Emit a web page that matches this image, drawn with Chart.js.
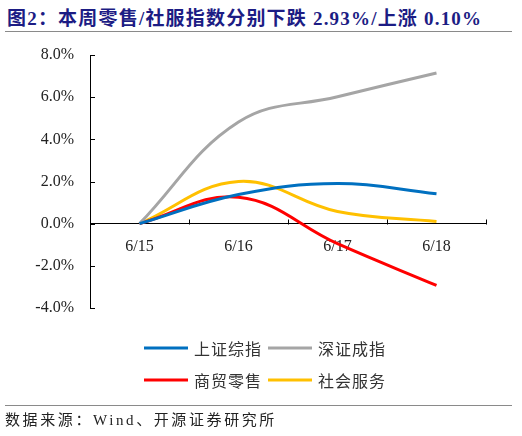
<!DOCTYPE html>
<html>
<head>
<meta charset="utf-8">
<script src="https://cdn.jsdelivr.net/npm/chart.js@4/dist/chart.umd.min.js"></script>
<style>
  html, body { margin: 0; padding: 0; background: #ffffff; }
  #wrap { position: relative; width: 522px; height: 436px; overflow: hidden; }
  #title { position: absolute; left: 7px; top: 3px; font: bold 19px "Liberation Serif", "Noto Sans CJK SC", serif; color: #1c1c84; white-space: nowrap; letter-spacing: 1.2px; }
  #rule1 { position: absolute; left: 5px; top: 31px; width: 507px; height: 0; border-top: 1.5px solid #8a8a8a; }
  #rule2 { position: absolute; left: 5px; top: 405px; width: 507px; height: 0; border-top: 1.5px solid #8a8a8a; }
  #source { position: absolute; left: 5px; top: 408px; font: 15px "Liberation Serif", "Noto Sans CJK SC", serif; color: #222; white-space: nowrap; letter-spacing: 2.6px; }
  canvas { position: absolute; left: 0; top: 0; }
</style>
</head>
<body>
<div id="wrap">
  <div id="title">图2：本周零售/社服指数分别下跌 2.93%/上涨 0.10%</div>
  <div id="rule1"></div>
  <canvas id="c" width="522" height="436"></canvas>
  <div id="rule2"></div>
  <div id="source">数据来源：Wind、开源证券研究所</div>
</div>
<script>
const categories = ['6/15', '6/16', '6/17', '6/18'];
const seriesNames = ['上证综指', '深证成指', '商贸零售', '社会服务'];
const shComposite = [0, 1.38, 1.90, 1.42];
const szComponent = [0, 4.82, 6.02, 7.15];
const retailTrade = [0, 1.25, -0.95, -2.93];
const socialService = [0, 2.00, 0.58, 0.10];
const yTicks = [-4, -2, 0, 2, 4, 6, 8];
const colors = ['#0070C0', '#A5A5A5', '#FF0000', '#FFC000'];

const tickMarks = {
  id: 'tickMarks',
  afterDraw(chart) {
    const ctx = chart.ctx;
    const x = chart.scales.x, y = chart.scales.y;
    const area = chart.chartArea;
    ctx.save();
    ctx.strokeStyle = '#000';
    ctx.lineWidth = 1;
    yTicks.forEach(v => {
      const py = Math.round(y.getPixelForValue(v)) + 0.5;
      ctx.beginPath(); ctx.moveTo(area.left, py); ctx.lineTo(area.left + 5, py); ctx.stroke();
    });
    const y0 = Math.round(y.getPixelForValue(0)) + 0.5;
    for (let i = 0; i < categories.length; i++) {
      const px = Math.round(x.getPixelForValue(i + 0.5)) + 0.5;
      ctx.beginPath(); ctx.moveTo(px, y0); ctx.lineTo(px, y0 - 5); ctx.stroke();
    }
    ctx.restore();
  }
};

const customLegend = {
  id: 'customLegend',
  afterDraw(chart) {
    const ctx = chart.ctx;
    const pos = [
      {x: 144, y: 348}, {x: 268, y: 348},
      {x: 144, y: 380}, {x: 268, y: 380}
    ];
    ctx.save();
    chart.data.datasets.forEach((ds, i) => {
      const p = pos[i];
      ctx.strokeStyle = ds.borderColor;
      ctx.lineWidth = 3;
      ctx.beginPath(); ctx.moveTo(p.x, p.y); ctx.lineTo(p.x + 44, p.y); ctx.stroke();
      ctx.fillStyle = '#333';
      ctx.font = '16px "Noto Sans CJK SC", sans-serif';
      ctx.textBaseline = 'middle';
      ctx.textAlign = 'left';
      if ('letterSpacing' in ctx) ctx.letterSpacing = '1px';
      ctx.fillText(ds.label, p.x + 50, p.y + 1);
    });
    ctx.restore();
  }
};

const mk = (i, data) => ({
  label: seriesNames[i],
  data: data,
  borderColor: colors[i],
  backgroundColor: colors[i],
  borderWidth: 3,
  pointRadius: 0,
  tension: 0.4,
  fill: false
});

new Chart(document.getElementById('c'), {
  type: 'line',
  data: {
    labels: categories,
    datasets: [mk(0, shComposite), mk(1, szComponent), mk(2, retailTrade), mk(3, socialService)]
  },
  options: {
    responsive: false,
    animation: false,
    events: [],
    layout: { padding: { left: 0, top: 55, right: 36, bottom: 128 } },
    plugins: { legend: { display: false }, tooltip: { enabled: false } },
    scales: {
      x: {
        type: 'category',
        position: { y: 0 },
        offset: true,
        grid: { display: false, drawTicks: false },
        border: { display: true, color: '#000', width: 1 },
        ticks: { color: '#222', padding: 14, maxRotation: 0, font: { family: '"Liberation Serif", serif', size: 16 } },
        afterFit(s) { s.height = 0; }
      },
      y: {
        min: -4, max: 8,
        afterBuildTicks(s) { s.ticks = yTicks.map(v => ({ value: v })); },
        grid: { display: false, drawTicks: false },
        border: { display: true, color: '#000', width: 1 },
        ticks: { color: '#222', padding: 16, font: { family: '"Liberation Serif", serif', size: 16 },
          callback: v => v.toFixed(1) + '%' },
        afterFit(s) { s.width = 90; }
      }
    }
  },
  plugins: [tickMarks, customLegend]
});
</script>
</body>
</html>
